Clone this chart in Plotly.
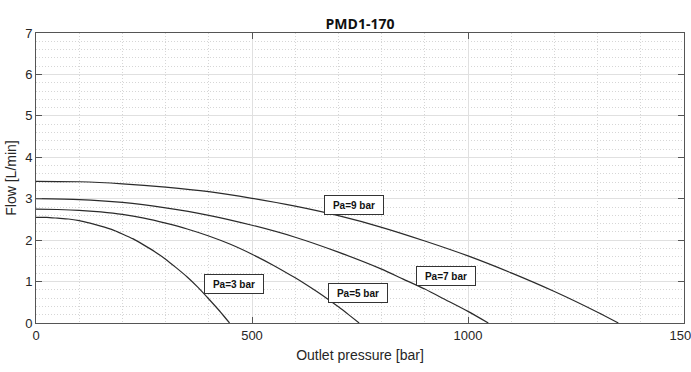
import plotly.graph_objects as go

# Pump characteristic curves: outlet pressure [bar] vs. flow [L/min]
pressure_pa3 = [0, 25, 50, 75, 100, 125, 150, 175, 200, 225, 250, 275, 300, 325, 350, 375, 400, 425, 448]
flow_pa3 = [2.55, 2.55, 2.53, 2.51, 2.47, 2.41, 2.34, 2.26, 2.15, 2.03, 1.88, 1.72, 1.54, 1.33, 1.11, 0.86, 0.58, 0.29, 0.0]

pressure_pa5 = [0, 50, 100, 150, 200, 250, 300, 350, 400, 450, 500, 550, 600, 625, 650, 675, 700, 725, 748]
flow_pa5 = [2.75, 2.74, 2.72, 2.68, 2.62, 2.53, 2.41, 2.27, 2.10, 1.90, 1.66, 1.39, 1.09, 0.93, 0.76, 0.58, 0.39, 0.19, 0.0]

pressure_pa7 = [0, 100, 200, 300, 400, 500, 600, 700, 800, 850, 900, 950, 1000, 1047]
flow_pa7 = [3.00, 2.98, 2.91, 2.78, 2.60, 2.36, 2.07, 1.71, 1.30, 1.06, 0.82, 0.55, 0.28, 0.0]

pressure_pa9 = [0, 100, 200, 300, 400, 500, 600, 700, 800, 900, 1000, 1100, 1200, 1300, 1348]
flow_pa9 = [3.42, 3.41, 3.36, 3.28, 3.17, 3.01, 2.82, 2.59, 2.31, 1.98, 1.62, 1.21, 0.76, 0.26, 0.0]

# Curve labels and where they sit
label_text = ["Pa=3 bar", "Pa=5 bar", "Pa=7 bar", "Pa=9 bar"]
label_x = [458, 745, 950, 735]
label_y = [0.95, 0.72, 1.13, 2.84]

x_ticks = [0, 500, 1000, 1500]
y_ticks = [0, 1, 2, 3, 4, 5, 6, 7]

TEXT = "#262626"
AXIS = "#555555"
GRID = "#e0e0e0"
MINOR = "#d6d6d6"
CURVE = "#2b2b2b"

fig = go.Figure()
for px, fy in [(pressure_pa3, flow_pa3), (pressure_pa5, flow_pa5),
               (pressure_pa7, flow_pa7), (pressure_pa9, flow_pa9)]:
    fig.add_trace(go.Scatter(
        x=px, y=fy, mode="lines",
        line=dict(color=CURVE, width=1.2, shape="spline", smoothing=0.6),
        showlegend=False, hoverinfo="skip",
    ))

for t, ax, ay in zip(label_text, label_x, label_y):
    fig.add_annotation(
        x=ax, y=ay, xref="x", yref="y", text="<b>" + t + "</b>",
        showarrow=False, bgcolor="white", bordercolor="#333333",
        borderwidth=1, borderpad=2, width=54, height=14,
        font=dict(family="Liberation Sans, Arial", size=10, color="#111111"),
    )

fig.update_layout(
    template="none",
    width=691, height=372,
    margin=dict(l=36, r=7, t=33, b=49),
    paper_bgcolor="white", plot_bgcolor="white",
    title=dict(text="<b>PMD1-170</b>", x=0.5, xref="paper", xanchor="center",
               y=1, yref="paper", yanchor="bottom", pad=dict(b=4),
               font=dict(family="Open Sans", size=14, color="#111111")),
    font=dict(family="Liberation Sans, Arial", size=13, color=TEXT),
    showlegend=False,
)

fig.update_xaxes(
    range=[0, 1500], tickvals=x_ticks, ticktext=[str(v) for v in x_ticks],
    ticks="inside", ticklen=6, tickcolor=AXIS, tickwidth=1,
    showline=True, linecolor=AXIS, linewidth=1, mirror="ticks",
    showgrid=True, gridcolor=GRID, gridwidth=1, zeroline=False,
    minor=dict(dtick=100, showgrid=True, gridcolor=MINOR, griddash="1px,2px", gridwidth=1, ticks=""),
    automargin=False, ticklabeloverflow="allow",
    tickfont=dict(size=13, color=TEXT),
    title=dict(text="Outlet pressure [bar]", font=dict(size=14, color=TEXT), standoff=8),
)
fig.update_yaxes(
    range=[0, 7], tickvals=y_ticks, ticktext=[str(v) for v in y_ticks],
    ticks="inside", ticklen=6, tickcolor=AXIS, tickwidth=1,
    showline=True, linecolor=AXIS, linewidth=1, mirror="ticks",
    showgrid=True, gridcolor=GRID, gridwidth=1, zeroline=False,
    minor=dict(dtick=0.2, showgrid=True, gridcolor=MINOR, griddash="1px,2px", gridwidth=1, ticks=""),
    automargin=False,
    tickfont=dict(size=13, color=TEXT),
    title=dict(text="Flow [L/min]", font=dict(size=14, color=TEXT), standoff=5),
)

fig.write_html("out.html")
